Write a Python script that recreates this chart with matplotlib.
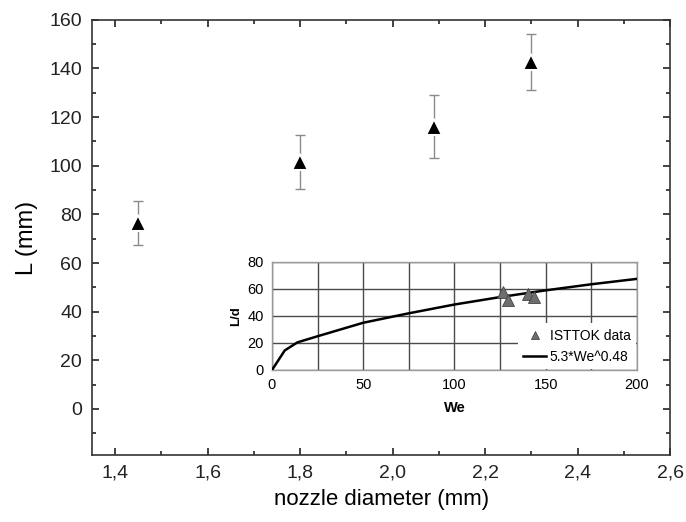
import numpy as np
import matplotlib.pyplot as plt
from matplotlib.ticker import MultipleLocator

plt.rcParams['font.family'] = ['Liberation Sans', 'DejaVu Sans']

# main data: jet length vs nozzle diameter
nozzle_d = [1.45, 1.80, 2.09, 2.30]          # [mm]
jet_L = [76.5, 101.5, 116.0, 142.5]          # [mm]
jet_L_err = [9.0, 11.0, 13.0, 11.5]          # [mm]

x_ticks = [1.4, 1.6, 1.8, 2.0, 2.2, 2.4, 2.6]
x_ticklabels = ['1,4', '1,6', '1,8', '2,0', '2,2', '2,4', '2,6']
y_ticks = [0, 20, 40, 60, 80, 100, 120, 140, 160]

# inset data
we_data = [126.5, 129.5, 140.5, 143.5]
ld_data = [57.5, 51.5, 56.0, 54.0]
we_fit = [0, 7, 14, 25, 50, 75, 100, 125, 150, 175, 200]
ld_fit = [0, 14.5, 20.5, 25.0, 35.0, 42.0, 48.5, 54.0, 59.0, 63.5, 67.5]

fig = plt.figure(figsize=(6.86, 5.22), dpi=100)
ax = fig.add_axes([0.134, 0.128, 0.843, 0.834])

ax.errorbar(nozzle_d, jet_L, yerr=jet_L_err, fmt='none', ecolor='#8a8a8a',
            elinewidth=1, capsize=3.5, capthick=1, zorder=2)
ax.plot(nozzle_d, jet_L, '^', color='black', markersize=11,
        markeredgecolor='white', markeredgewidth=1.5, zorder=3)

ax.set_xlim(1.35, 2.6)
ax.set_ylim(-19, 160)
ax.set_xticks(x_ticks)
ax.set_xticklabels(x_ticklabels)
ax.set_yticks(y_ticks)
ax.xaxis.set_minor_locator(MultipleLocator(0.1))
ax.yaxis.set_minor_locator(MultipleLocator(10))
ax.tick_params(which='both', direction='in', top=True, right=True,
               labelsize=14, width=1.2, colors='#222222')
ax.tick_params(which='major', length=5, pad=7)
ax.tick_params(which='minor', length=3)
for sp in ax.spines.values():
    sp.set_linewidth(1.2)
    sp.set_color('#333333')
ax.set_xlabel('nozzle diameter (mm)', fontsize=16, labelpad=5)
ax.set_ylabel('L (mm)', fontsize=17, labelpad=8)

# inset
ins = fig.add_axes([0.3965, 0.2912, 0.532, 0.2069])
ins.plot(we_fit, ld_fit, '-', color='black', linewidth=1.8,
         label='5.3*We^0.48', zorder=3)
ins.plot(we_data, ld_data, '^', color='#6e6e6e', markersize=8,
         markeredgecolor='#444444', markeredgewidth=0.6,
         label='ISTTOK data', zorder=4)
ins.set_xlim(0, 200)
ins.set_ylim(0, 80)
ins.set_xticks([0, 50, 100, 150, 200])
ins.set_yticks([0, 20, 40, 60, 80])
ins.xaxis.set_minor_locator(MultipleLocator(25))
ins.grid(True, which='both', color='#4a4a4a', linewidth=1)
ins.set_axisbelow(True)
ins.tick_params(which='both', length=0, labelsize=10.5, pad=6)
for sp in ins.spines.values():
    sp.set_color('#9a9a9a')
    sp.set_linewidth(1)
ins.set_xlabel('We', fontsize=10.5, fontweight='bold', labelpad=6)
ins.set_ylabel('L/d', fontsize=9.5, fontweight='bold', labelpad=4)

h, l = ins.get_legend_handles_labels()
leg = ins.legend(h[::-1], l[::-1], loc='lower right', fontsize=10,
                 frameon=True, fancybox=False, edgecolor='none',
                 facecolor='white', framealpha=1, borderaxespad=0.05,
                 handlelength=1.6, handletextpad=0.3, labelspacing=0.5,
                 borderpad=0.4, markerscale=0.75)

fig.savefig('out.png', dpi=100)
